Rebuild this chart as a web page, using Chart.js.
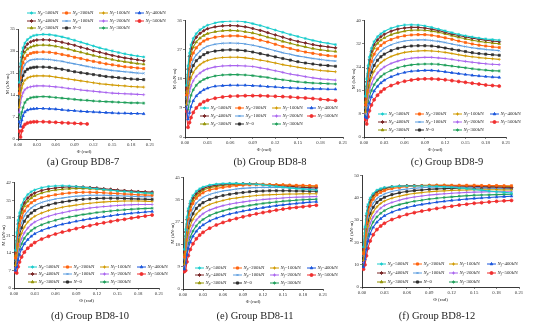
<!DOCTYPE html>
<html>
<head>
<meta charset="utf-8">
<script src="https://cdn.jsdelivr.net/npm/chart.js@4.4.0/dist/chart.umd.min.js"></script>
<style>
  body { margin: 0; background: #fff; width: 545px; height: 332px; position: relative; overflow: hidden; font-family: "Liberation Serif", "Times New Roman", serif; }
  .panel { position: absolute; }
  .cap { position: absolute; font-size: 10.5px; color: #222; white-space: nowrap; transform: translate(-50%, -50%); }
</style>
</head>
<body>
<script>
// rotation angle (rad) sampled for every curve
var phi = [0.002, 0.004, 0.006, 0.008, 0.011, 0.015, 0.02, 0.025, 0.03, 0.04, 0.05, 0.06, 0.07,
           0.08, 0.09, 0.10, 0.11, 0.12, 0.13, 0.14, 0.15, 0.16, 0.17, 0.18, 0.19, 0.20];

var seriesNames = ['Np=500kN', 'Np=200kN', 'Nf=100kN', 'Nf=400kN',
                   'Np=400kN', 'Np=100kN', 'Nf=200kN', 'Nf=500kN',
                   'Np=300kN', 'N=0', 'Nf=300kN'];
var seriesColors = ['#19cccc', '#ff6410', '#d09a00', '#1a56dc',
                    '#7a2828', '#5d9ddf', '#a964ee', '#f02e2e',
                    '#939305', '#303030', '#1f9f5a'];
var seriesMarks = ['star', 'rect', 'cross', 'triangle',
                   'rectRot', 'crossRot', 'cross', 'circle',
                   'triangle', 'rect', 'star'];

var phiTicks = [0, 0.03, 0.06, 0.09, 0.12, 0.15, 0.18, 0.21];

// moment M (kN·m), rows follow seriesNames
var bd87 = [
  [18, 24, 27.2, 29, 30.5, 31.6, 32.4, 32.9, 33.1, 33.3, 33.2, 32.9, 32.5, 32.0, 31.4, 30.8, 30.2, 29.6, 29.0, 28.5, 28.0, 27.5, 27.1, 26.7, 26.4, 26.1],
  [14.5, 19.5, 22.5, 24.2, 25.6, 26.6, 27.2, 27.5, 27.6, 27.7, 27.6, 27.3, 26.9, 26.5, 26.0, 25.6, 25.1, 24.7, 24.3, 23.9, 23.6, 23.3, 23.0, 22.8, 22.6, 22.4],
  [10, 13.8, 16.2, 17.6, 18.7, 19.4, 19.8, 20.0, 20.1, 20.1, 20.0, 19.7, 19.4, 19.1, 18.8, 18.5, 18.2, 17.9, 17.6, 17.4, 17.2, 17.0, 16.9, 16.7, 16.6, 16.5],
  [5.5, 4, 6, 7.4, 8.6, 9.2, 9.5, 9.6, 9.7, 9.7, 9.6, 9.5, 9.3, 9.1, 9.0, 8.8, 8.7, 8.6, 8.5, 8.4, 8.3, 8.2, 8.2, 8.1, 8.1, 8.0],
  [17, 23, 26, 27.8, 29.2, 30.2, 30.9, 31.3, 31.5, 31.6, 31.5, 31.2, 30.8, 30.3, 29.8, 29.2, 28.7, 28.1, 27.6, 27.1, 26.6, 26.2, 25.8, 25.5, 25.2, 24.9],
  [13, 18, 20.8, 22.5, 23.7, 24.6, 25.1, 25.3, 25.4, 25.4, 25.3, 25.0, 24.7, 24.3, 23.9, 23.5, 23.1, 22.7, 22.4, 22.1, 21.8, 21.6, 21.4, 21.2, 21.0, 20.9],
  [8.5, 11.5, 13.5, 14.7, 15.7, 16.3, 16.6, 16.8, 16.9, 16.9, 16.8, 16.6, 16.4, 16.1, 15.9, 15.6, 15.4, 15.2, 15.0, 14.8, 14.6, 14.5, 14.4, 14.3, 14.2, 14.1],
  [2.5, 0.6, 2.6, 3.8, 4.6, 5.1, 5.35, 5.45, 5.5, 5.5, 5.4, 5.3, 5.2, 5.1, 5.0, 4.9, 4.8, null, null, null, null, null, null, null, null, null],
  [16, 21.5, 24.5, 26.2, 27.6, 28.6, 29.2, 29.6, 29.8, 29.9, 29.8, 29.5, 29.1, 28.6, 28.1, 27.6, 27.1, 26.6, 26.1, 25.7, 25.3, 24.9, 24.6, 24.3, 24.0, 23.8],
  [11.5, 16, 18.6, 20.2, 21.4, 22.2, 22.6, 22.8, 22.9, 22.9, 22.8, 22.5, 22.2, 21.8, 21.4, 21.1, 20.8, 20.5, 20.2, 19.9, 19.7, 19.5, 19.3, 19.1, 19.0, 18.9],
  [8, 6.5, 8.5, 10, 11.6, 12.6, 13.1, 13.3, 13.4, 13.5, 13.4, 13.2, 13.0, 12.8, 12.6, 12.4, 12.3, 12.1, 12.0, 11.9, 11.8, 11.7, 11.6, 11.5, 11.5, 11.4]
];
var bd88 = [
  [16, 22, 26, 28.5, 30.5, 32.0, 33.2, 34.0, 34.6, 35.3, 35.7, 35.9, 35.9, 35.6, 35.1, 34.5, 33.8, 33.1, 32.4, 31.7, 31.1, 30.5, 29.9, 29.4, 29.0, 28.6],
  [13, 18, 21.8, 24, 26, 27.6, 28.8, 29.7, 30.3, 30.9, 31.2, 31.3, 31.3, 31.0, 30.6, 30.0, 29.4, 28.7, 28.0, 27.4, 26.8, 26.3, 25.9, 25.5, 25.2, 25.0],
  [10, 13.5, 16.3, 18.2, 19.9, 21.3, 22.4, 23.2, 23.7, 24.3, 24.6, 24.7, 24.7, 24.5, 24.2, 23.8, 23.4, 22.9, 22.4, 22.0, 21.6, 21.2, 20.9, 20.6, 20.4, 20.2],
  [10, 5.5, 7.5, 9.4, 11.2, 12.7, 13.8, 14.6, 15.1, 15.7, 15.9, 16.0, 16.0, 16.0, 15.9, 15.8, 15.6, 15.5, 15.3, 15.2, 15.1, 15.0, 14.9, 14.9, 14.8, 14.8],
  [15, 21, 25, 27.3, 29.3, 30.9, 32.1, 32.9, 33.5, 34.1, 34.4, 34.5, 34.4, 34.1, 33.6, 33.0, 32.3, 31.6, 30.9, 30.2, 29.6, 29.1, 28.6, 28.2, 27.9, 27.6],
  [12, 16.5, 20, 22, 23.9, 25.4, 26.6, 27.5, 28.1, 28.7, 29.0, 29.1, 29.0, 28.8, 28.4, 27.9, 27.3, 26.7, 26.1, 25.6, 25.1, 24.7, 24.3, 24.0, 23.7, 23.5],
  [9, 11.5, 14, 15.8, 17.4, 18.8, 19.8, 20.6, 21.1, 21.7, 22.0, 22.1, 22.1, 22.0, 21.8, 21.4, 21.0, 20.5, 20.0, 19.5, 19.1, 18.7, 18.3, 18.0, 17.8, 17.6],
  [8, 3, 4.5, 6, 7.6, 9.0, 10.1, 10.9, 11.4, 12.0, 12.4, 12.6, 12.7, 12.8, 12.8, 12.8, 12.7, 12.6, 12.5, 12.4, 12.2, 12.1, 11.9, 11.7, 11.5, 11.3],
  [14, 19.5, 23.5, 25.8, 27.8, 29.4, 30.6, 31.4, 32.0, 32.6, 32.9, 33.0, 32.9, 32.6, 32.2, 31.6, 30.9, 30.3, 29.6, 29.0, 28.4, 27.9, 27.4, 27.0, 26.7, 26.5],
  [11, 15, 18.3, 20.3, 22.1, 23.6, 24.7, 25.5, 26.1, 26.6, 26.9, 27.0, 26.9, 26.7, 26.3, 25.8, 25.3, 24.8, 24.3, 23.8, 23.3, 22.9, 22.6, 22.3, 22.1, 21.9],
  [8, 8.5, 11, 12.9, 14.6, 16.0, 17.1, 17.8, 18.3, 18.9, 19.2, 19.3, 19.3, 19.2, 19.0, 18.7, 18.4, 18.0, 17.7, 17.4, 17.1, 16.9, 16.7, 16.6, 16.5, 16.4]
];
var bd89 = [
  [14, 20, 24.5, 27.5, 30.5, 32.8, 34.5, 35.5, 36.3, 37.4, 38.1, 38.5, 38.6, 38.5, 38.2, 37.7, 37.1, 36.5, 35.9, 35.3, 34.8, 34.4, 34.0, 33.7, 33.5, 33.3],
  [11, 16, 20, 23, 26, 28.5, 30.3, 31.5, 32.4, 33.5, 34.3, 34.8, 35.1, 35.2, 35.2, 35.0, 34.6, 34.1, 33.6, 33.0, 32.5, 32.0, 31.6, 31.3, 31.0, 30.8],
  [8.5, 12, 15.3, 17.8, 20.4, 22.6, 24.4, 25.6, 26.5, 27.7, 28.5, 29.1, 29.4, 29.6, 29.7, 29.6, 29.4, 29.1, 28.7, 28.3, 27.9, 27.6, 27.3, 27.1, 26.9, 26.7],
  [7, 6.5, 9.5, 11.6, 13.8, 15.8, 17.4, 18.6, 19.5, 20.7, 21.6, 22.2, 22.6, 22.8, 22.9, 22.9, 22.7, 22.4, 22.1, 21.8, 21.5, 21.2, 21.0, 20.8, 20.6, 20.5],
  [13, 19, 23.5, 26.5, 29.5, 31.8, 33.4, 34.5, 35.3, 36.4, 37.1, 37.5, 37.7, 37.7, 37.5, 37.1, 36.6, 36.0, 35.4, 34.9, 34.4, 34.0, 33.6, 33.3, 33.0, 32.8],
  [10, 14.5, 18.3, 21.2, 24, 26.5, 28.3, 29.6, 30.5, 31.7, 32.5, 33.0, 33.3, 33.4, 33.4, 33.2, 32.9, 32.5, 32.0, 31.5, 31.1, 30.7, 30.4, 30.1, 29.9, 29.7],
  [8, 10.5, 13.5, 15.8, 18.2, 20.3, 22.0, 23.2, 24.1, 25.3, 26.1, 26.7, 27.1, 27.3, 27.4, 27.4, 27.2, 27.0, 26.7, 26.3, 26.0, 25.7, 25.4, 25.2, 25.0, 24.9],
  [6, 4.5, 7, 9, 11, 12.8, 14.4, 15.6, 16.5, 17.7, 18.6, 19.2, 19.6, 19.9, 20.0, 20.0, 19.9, 19.7, 19.4, 19.1, 18.8, 18.5, 18.2, 17.9, 17.7, 17.5],
  [12, 17.5, 22, 25, 28, 30.5, 32.2, 33.3, 34.1, 35.2, 35.9, 36.4, 36.7, 36.8, 36.7, 36.4, 36.0, 35.5, 34.9, 34.3, 33.8, 33.3, 32.9, 32.6, 32.3, 32.1],
  [9.5, 13.5, 17, 19.6, 22.3, 24.6, 26.4, 27.6, 28.5, 29.7, 30.5, 31.0, 31.3, 31.4, 31.4, 31.3, 31.0, 30.6, 30.2, 29.8, 29.4, 29.0, 28.7, 28.5, 28.3, 28.1],
  [7.5, 9, 11.8, 13.8, 16.0, 18.0, 19.6, 20.8, 21.7, 22.9, 23.8, 24.4, 24.8, 25.0, 25.1, 25.1, 25.0, 24.7, 24.4, 24.1, 23.8, 23.5, 23.2, 23.0, 22.8, 22.7]
];
var bd810 = [
  [15, 22, 27, 30, 33, 35.5, 37.3, 38.4, 39.1, 40.0, 40.5, 40.7, 40.8, 40.7, 40.5, 40.2, 39.9, 39.6, 39.3, 39.0, 38.7, 38.5, 38.3, 38.1, 37.9, 37.8],
  [12, 17.5, 22, 25, 28, 30.7, 32.7, 34.0, 34.9, 36.0, 36.7, 37.2, 37.6, 37.9, 38.1, 38.2, 38.2, 38.1, 38.0, 37.8, 37.7, 37.5, 37.4, 37.2, 37.1, 37.0],
  [9, 13, 16.6, 19.2, 21.8, 24.3, 26.3, 27.6, 28.6, 29.9, 30.9, 31.6, 32.2, 32.7, 33.1, 33.5, 33.8, 34.1, 34.3, 34.5, 34.6, 34.7, 34.7, 34.7, 34.6, 34.5],
  [7, 8.5, 11.2, 13.3, 15.5, 17.6, 19.3, 20.6, 21.6, 22.9, 23.9, 24.7, 25.4, 26.0, 26.6, 27.1, 27.6, 28.0, 28.4, 28.8, 29.2, 29.5, 29.8, 30.1, 30.3, 30.5],
  [14, 20.5, 25.5, 28.5, 31.5, 34, 35.9, 37.1, 37.9, 38.9, 39.5, 39.9, 40.2, 40.3, 40.4, 40.3, 40.1, 39.9, 39.6, 39.4, 39.1, 38.9, 38.7, 38.5, 38.4, 38.3],
  [11, 16, 20.3, 23.2, 26, 28.7, 30.6, 31.9, 32.9, 34.1, 34.9, 35.5, 35.9, 36.3, 36.6, 36.8, 37.0, 37.0, 37.0, 36.9, 36.8, 36.7, 36.6, 36.5, 36.4, 36.4],
  [8, 11.5, 14.8, 17.2, 19.6, 22, 23.9, 25.3, 26.3, 27.6, 28.6, 29.4, 30.0, 30.6, 31.1, 31.5, 31.9, 32.2, 32.5, 32.7, 32.9, 33.1, 33.2, 33.3, 33.3, 33.3],
  [6.5, 6, 8.5, 10.4, 12.4, 14.3, 15.9, 17.1, 18.1, 19.5, 20.6, 21.5, 22.3, 23.0, 23.7, 24.3, 24.9, 25.5, 26.0, 26.5, 27.0, 27.4, 27.9, 28.3, 28.7, 29.1],
  [13, 19, 24, 27, 30, 32.7, 34.6, 35.9, 36.8, 37.9, 38.6, 39.1, 39.4, 39.6, 39.7, 39.7, 39.6, 39.4, 39.2, 39.0, 38.8, 38.6, 38.4, 38.2, 38.0, 37.9],
  [10, 14.5, 18.5, 21.3, 24, 26.6, 28.6, 29.9, 30.9, 32.2, 33.1, 33.8, 34.3, 34.7, 35.1, 35.4, 35.6, 35.7, 35.8, 35.8, 35.8, 35.7, 35.6, 35.5, 35.4, 35.3],
  [7.5, 10, 13, 15.3, 17.6, 19.8, 21.6, 22.9, 23.9, 25.2, 26.2, 27.0, 27.7, 28.3, 28.8, 29.3, 29.7, 30.1, 30.4, 30.7, 31.0, 31.2, 31.4, 31.6, 31.7, 31.8]
];
var bd811 = [
  [16, 24, 29, 32.5, 35.5, 37.8, 39.5, 40.5, 41.2, 42.0, 42.4, 42.6, 42.7, 42.7, 42.6, 42.5, 42.3, 42.1, 41.8, 41.5, 41.2, 40.9, 40.6, 40.4, 40.2, 40.0],
  [13, 20, 25, 28.6, 31.9, 34.6, 36.7, 38.0, 38.9, 40.0, 40.6, 41.1, 41.5, 41.8, 42.0, 42.1, 42.2, 42.2, 42.2, 42.1, 42.1, 42.0, 41.9, 41.9, 41.8, 41.7],
  [10, 15.5, 19.6, 22.7, 25.6, 28.2, 30.3, 31.7, 32.8, 34.2, 35.1, 35.8, 36.4, 36.8, 37.2, 37.5, 37.8, 38.0, 38.1, 38.2, 38.3, 38.4, 38.4, 38.5, 38.5, 38.5],
  [8, 10.5, 13.8, 16.4, 19.0, 21.3, 23.3, 24.8, 25.9, 27.5, 28.6, 29.5, 30.3, 30.9, 31.5, 32.0, 32.5, 32.9, 33.3, 33.7, 34.0, 34.3, 34.6, 34.9, 35.1, 35.3],
  [15, 23, 28, 31.5, 34.5, 36.9, 38.7, 39.8, 40.6, 41.5, 42.0, 42.3, 42.5, 42.6, 42.6, 42.5, 42.4, 42.3, 42.1, 41.9, 41.7, 41.5, 41.3, 41.1, 41.0, 40.9],
  [12, 18.5, 23.2, 26.6, 29.8, 32.5, 34.7, 36.0, 37.0, 38.2, 39.0, 39.6, 40.0, 40.4, 40.7, 40.9, 41.0, 41.1, 41.1, 41.1, 41.0, 40.9, 40.8, 40.6, 40.5, 40.3],
  [9, 13.5, 17.5, 20.5, 23.3, 25.8, 27.9, 29.3, 30.4, 31.9, 32.9, 33.7, 34.3, 34.8, 35.2, 35.6, 35.9, 36.2, 36.4, 36.6, 36.8, 37.0, 37.1, 37.2, 37.3, 37.4],
  [7, 7.5, 11, 13.5, 16.0, 18.3, 20.3, 21.8, 22.9, 24.6, 25.9, 26.9, 27.8, 28.5, 29.2, 29.8, 30.4, 30.9, 31.4, 31.9, 32.3, 32.7, 33.0, 33.3, 33.6, 33.9],
  [14, 21.5, 26.5, 30, 33.2, 35.8, 37.8, 39.0, 39.9, 40.9, 41.5, 41.9, 42.1, 42.3, 42.4, 42.4, 42.4, 42.3, 42.2, 42.1, 42.0, 41.9, 41.8, 41.7, 41.6, 41.5],
  [11, 17, 21.5, 24.8, 27.8, 30.4, 32.6, 33.9, 34.9, 36.2, 37.1, 37.8, 38.3, 38.7, 39.0, 39.3, 39.5, 39.6, 39.7, 39.7, 39.7, 39.7, 39.6, 39.6, 39.5, 39.5],
  [8.5, 12, 15.5, 18.3, 21.0, 23.4, 25.5, 27.0, 28.1, 29.7, 30.8, 31.6, 32.3, 32.9, 33.4, 33.8, 34.2, 34.6, 34.9, 35.2, 35.5, 35.7, 35.9, 36.1, 36.2, 36.3]
];
var bd812 = [
  [18, 27, 33, 37, 40, 42, 43.5, 44.2, 44.7, 45.1, 45.3, 45.4, 45.4, 45.4, 45.3, 45.2, 45.0, 44.8, 44.5, 44.2, 43.8, 43.5, 43.1, 42.8, 42.5, 42.2],
  [15, 23, 29, 33.2, 36.7, 39.4, 41.4, 42.5, 43.3, 44.2, 44.7, 45.1, 45.3, 45.5, 45.6, 45.7, 45.7, 45.7, 45.7, 45.7, 45.7, 45.6, 45.6, 45.6, 45.5, 45.5],
  [12, 18, 23.5, 27.3, 30.8, 33.7, 36.0, 37.5, 38.6, 39.9, 40.8, 41.5, 42.0, 42.4, 42.8, 43.0, 43.2, 43.4, 43.5, 43.6, 43.7, 43.7, 43.7, 43.7, 43.6, 43.6],
  [9, 12.5, 17, 20.5, 23.9, 26.8, 29.1, 30.7, 32.0, 33.6, 34.8, 35.7, 36.5, 37.1, 37.6, 38.1, 38.5, 38.9, 39.2, 39.5, 39.8, 40.0, 40.2, 40.4, 40.6, 40.8],
  [17, 26, 32, 36, 39.2, 41.4, 43.0, 43.8, 44.4, 45.0, 45.3, 45.5, 45.6, 45.6, 45.6, 45.6, 45.5, 45.5, 45.4, 45.3, 45.2, 45.1, 45.0, 44.9, 44.8, 44.7],
  [14, 21.5, 27.2, 31.3, 34.8, 37.6, 39.7, 40.9, 41.8, 42.9, 43.6, 44.0, 44.4, 44.6, 44.8, 44.9, 45.0, 45.0, 45.0, 44.9, 44.8, 44.7, 44.5, 44.3, 44.1, 43.9],
  [11, 16.5, 21.5, 25.2, 28.6, 31.5, 33.8, 35.4, 36.6, 38.0, 39.0, 39.8, 40.4, 40.9, 41.3, 41.6, 41.9, 42.1, 42.3, 42.5, 42.6, 42.7, 42.8, 42.8, 42.8, 42.8],
  [8, 10, 14, 17.4, 20.7, 23.5, 25.8, 27.4, 28.6, 30.3, 31.6, 32.6, 33.4, 34.1, 34.7, 35.3, 35.8, 36.3, 36.8, 37.2, 37.6, 37.9, 38.2, 38.5, 38.7, 38.9],
  [16, 24.5, 30.5, 34.6, 38, 40.5, 42.3, 43.3, 44.0, 44.8, 45.2, 45.4, 45.5, 45.6, 45.7, 45.7, 45.7, 45.6, 45.6, 45.5, 45.5, 45.4, 45.3, 45.3, 45.2, 45.1],
  [13, 20, 25.5, 29.5, 33, 35.8, 38.0, 39.3, 40.3, 41.5, 42.3, 42.9, 43.3, 43.6, 43.9, 44.1, 44.2, 44.3, 44.4, 44.5, 44.5, 44.5, 44.5, 44.4, 44.4, 44.3],
  [10, 14.5, 19.3, 22.9, 26.3, 29.2, 31.5, 33.1, 34.3, 35.9, 37.0, 37.8, 38.5, 39.0, 39.5, 39.9, 40.2, 40.5, 40.8, 41.0, 41.2, 41.3, 41.4, 41.5, 41.6, 41.7]
];

var mTicks87 = [0, 7, 14, 21, 28, 35];
var mTicks88 = [0, 9, 18, 27, 36];
var mTicks89 = [0, 8, 16, 24, 32, 40];
var mTicks810 = [0, 7, 14, 21, 28, 35, 42];
var mTicks811 = [0, 9, 18, 27, 36, 45];
var mTicks812 = [0, 10, 20, 30, 40, 50];

var groupTitles = ['(a) Group BD8-7', '(b) Group BD8-8', '(c) Group BD8-9',
                   '(d) Group BD8-10', '(e) Group BD8-11', '(f) Group BD8-12'];

// page placement of each plot box, its key and its caption
var panels = [
  { data: bd87,  ticks: mTicks87,  l: 18,  t: 29,  r: 150, b: 139, padTop: 29, cols: [27, 62, 99, 135],   rows: [13, 21, 28],    cap: [83, 161] },
  { data: bd88,  ticks: mTicks88,  l: 185, t: 20,  r: 343, b: 137, padTop: 4,  cols: [200, 235, 272, 307], rows: [108, 116, 124], cap: [270, 161] },
  { data: bd89,  ticks: mTicks89,  l: 364, t: 20,  r: 506, b: 137, padTop: 4,  cols: [378, 415, 453, 490], rows: [114, 122, 130], cap: [447, 161] },
  { data: bd810, ticks: mTicks810, l: 14,  t: 182, r: 159, b: 288, padTop: 4,  cols: [28, 63, 100, 137],   rows: [267, 274, 282], cap: [90, 315] },
  { data: bd811, ticks: mTicks811, l: 183, t: 177, r: 323, b: 289, padTop: 4,  cols: [195, 233, 270, 307], rows: [268, 275, 283], cap: [255, 315] },
  { data: bd812, ticks: mTicks812, l: 362, t: 175, r: 519, b: 287, padTop: 4,  cols: [377, 413, 449, 487], rows: [264, 273, 282], cap: [437, 315] }
];

var FONT = '"Liberation Serif", "Times New Roman", serif';
Chart.defaults.font.family = FONT;
Chart.defaults.color = '#222';

var Y_W = 14, X_H = 17, PAD_R = 26;

// key drawn by hand so it can sit in a 4-column grid with subscripts
var keyPlugin = {
  id: 'seriesKey',
  afterDraw: function (chart, args, opts) {
    var ctx = chart.ctx;
    ctx.save();
    chart.data.datasets.forEach(function (ds, i) {
      var x = opts.cols[i % 4] - opts.ox;
      var y = opts.rows[Math.floor(i / 4)] - opts.oy;
      ctx.strokeStyle = ds.borderColor;
      ctx.fillStyle = ds.borderColor;
      ctx.lineWidth = 1;
      ctx.beginPath();
      ctx.moveTo(x, y);
      ctx.lineTo(x + 9, y);
      ctx.stroke();
      Chart.helpers.drawPoint(ctx, { pointStyle: ds.pointStyle, radius: 1.5, borderWidth: 0.7, rotation: 0 }, x + 4.5, y);

      ctx.fillStyle = '#222';
      ctx.textBaseline = 'middle';
      var tx = x + 10.5;
      var name = ds.label;
      ctx.font = 'italic 4.8px ' + FONT;
      ctx.fillText('N', tx, y);
      tx += ctx.measureText('N').width;
      var rest = name.slice(1);
      if (rest[0] === 'p' || rest[0] === 'f') {
        ctx.font = 'italic 3.4px ' + FONT;
        ctx.fillText(rest[0], tx, y + 1.3);
        tx += ctx.measureText(rest[0]).width + 0.2;
        rest = rest.slice(1);
      }
      ctx.font = '4.8px ' + FONT;
      ctx.fillText(rest, tx, y);
    });
    ctx.restore();
  }
};

panels.forEach(function (p, k) {
  var box = document.createElement('div');
  box.className = 'panel';
  var left = p.l - Y_W, top = p.t - p.padTop;
  box.style.left = left + 'px';
  box.style.top = top + 'px';
  box.style.width = (p.r - p.l + Y_W + PAD_R) + 'px';
  box.style.height = (p.b - p.t + p.padTop + X_H) + 'px';
  var cv = document.createElement('canvas');
  box.appendChild(cv);
  document.body.appendChild(box);

  var cap = document.createElement('div');
  cap.className = 'cap';
  cap.textContent = groupTitles[k];
  cap.style.left = p.cap[0] + 'px';
  cap.style.top = p.cap[1] + 'px';
  document.body.appendChild(cap);

  var datasets = p.data.map(function (vals, i) {
    var pts = [];
    vals.forEach(function (v, j) {
      if (v !== null) pts.push({ x: phi[j], y: v });
    });
    return {
      label: seriesNames[i],
      data: pts,
      borderColor: seriesColors[i],
      backgroundColor: seriesColors[i],
      borderWidth: 1.1,
      pointStyle: seriesMarks[i],
      pointRadius: 1.5,
      pointBorderWidth: 0.7,
      cubicInterpolationMode: 'monotone'
    };
  });

  var yMax = p.ticks[p.ticks.length - 1];

  new Chart(cv, {
    type: 'line',
    data: { datasets: datasets },
    plugins: [keyPlugin],
    options: {
      responsive: true,
      maintainAspectRatio: false,
      animation: false,
      events: [],
      layout: { padding: { left: 0, top: p.padTop, right: PAD_R, bottom: 0 } },
      plugins: {
        legend: { display: false },
        tooltip: { enabled: false },
        seriesKey: { cols: p.cols, rows: p.rows, ox: left, oy: top }
      },
      scales: {
        x: {
          type: 'linear',
          min: 0,
          max: 0.21,
          afterBuildTicks: function (s) { s.ticks = phiTicks.map(function (v) { return { value: v }; }); },
          afterFit: function (s) { s.height = X_H; },
          ticks: {
            font: { size: 4.8 }, color: '#333', padding: 1, maxRotation: 0, autoSkip: false,
            callback: function (v) { return v.toFixed(2); }
          },
          grid: { display: true, drawOnChartArea: false, tickLength: 2, color: '#333', lineWidth: 0.6 },
          border: { color: '#222', width: 0.9 },
          title: { display: true, text: 'Φ (rad)', font: { size: 5 }, color: '#222', padding: { top: 0, bottom: 1 } }
        },
        y: {
          min: 0,
          max: yMax,
          afterBuildTicks: function (s) { s.ticks = p.ticks.map(function (v) { return { value: v }; }); },
          afterFit: function (s) { s.width = Y_W; },
          ticks: { font: { size: 4.8 }, color: '#333', padding: 1 },
          grid: { display: true, drawOnChartArea: false, tickLength: 2, color: '#333', lineWidth: 0.6 },
          border: { color: '#222', width: 0.9 },
          title: { display: true, text: 'M (kN·m)', font: { size: 5 }, color: '#222', padding: { top: 1, bottom: 0 } }
        }
      }
    }
  });
});
</script>
</body>
</html>
